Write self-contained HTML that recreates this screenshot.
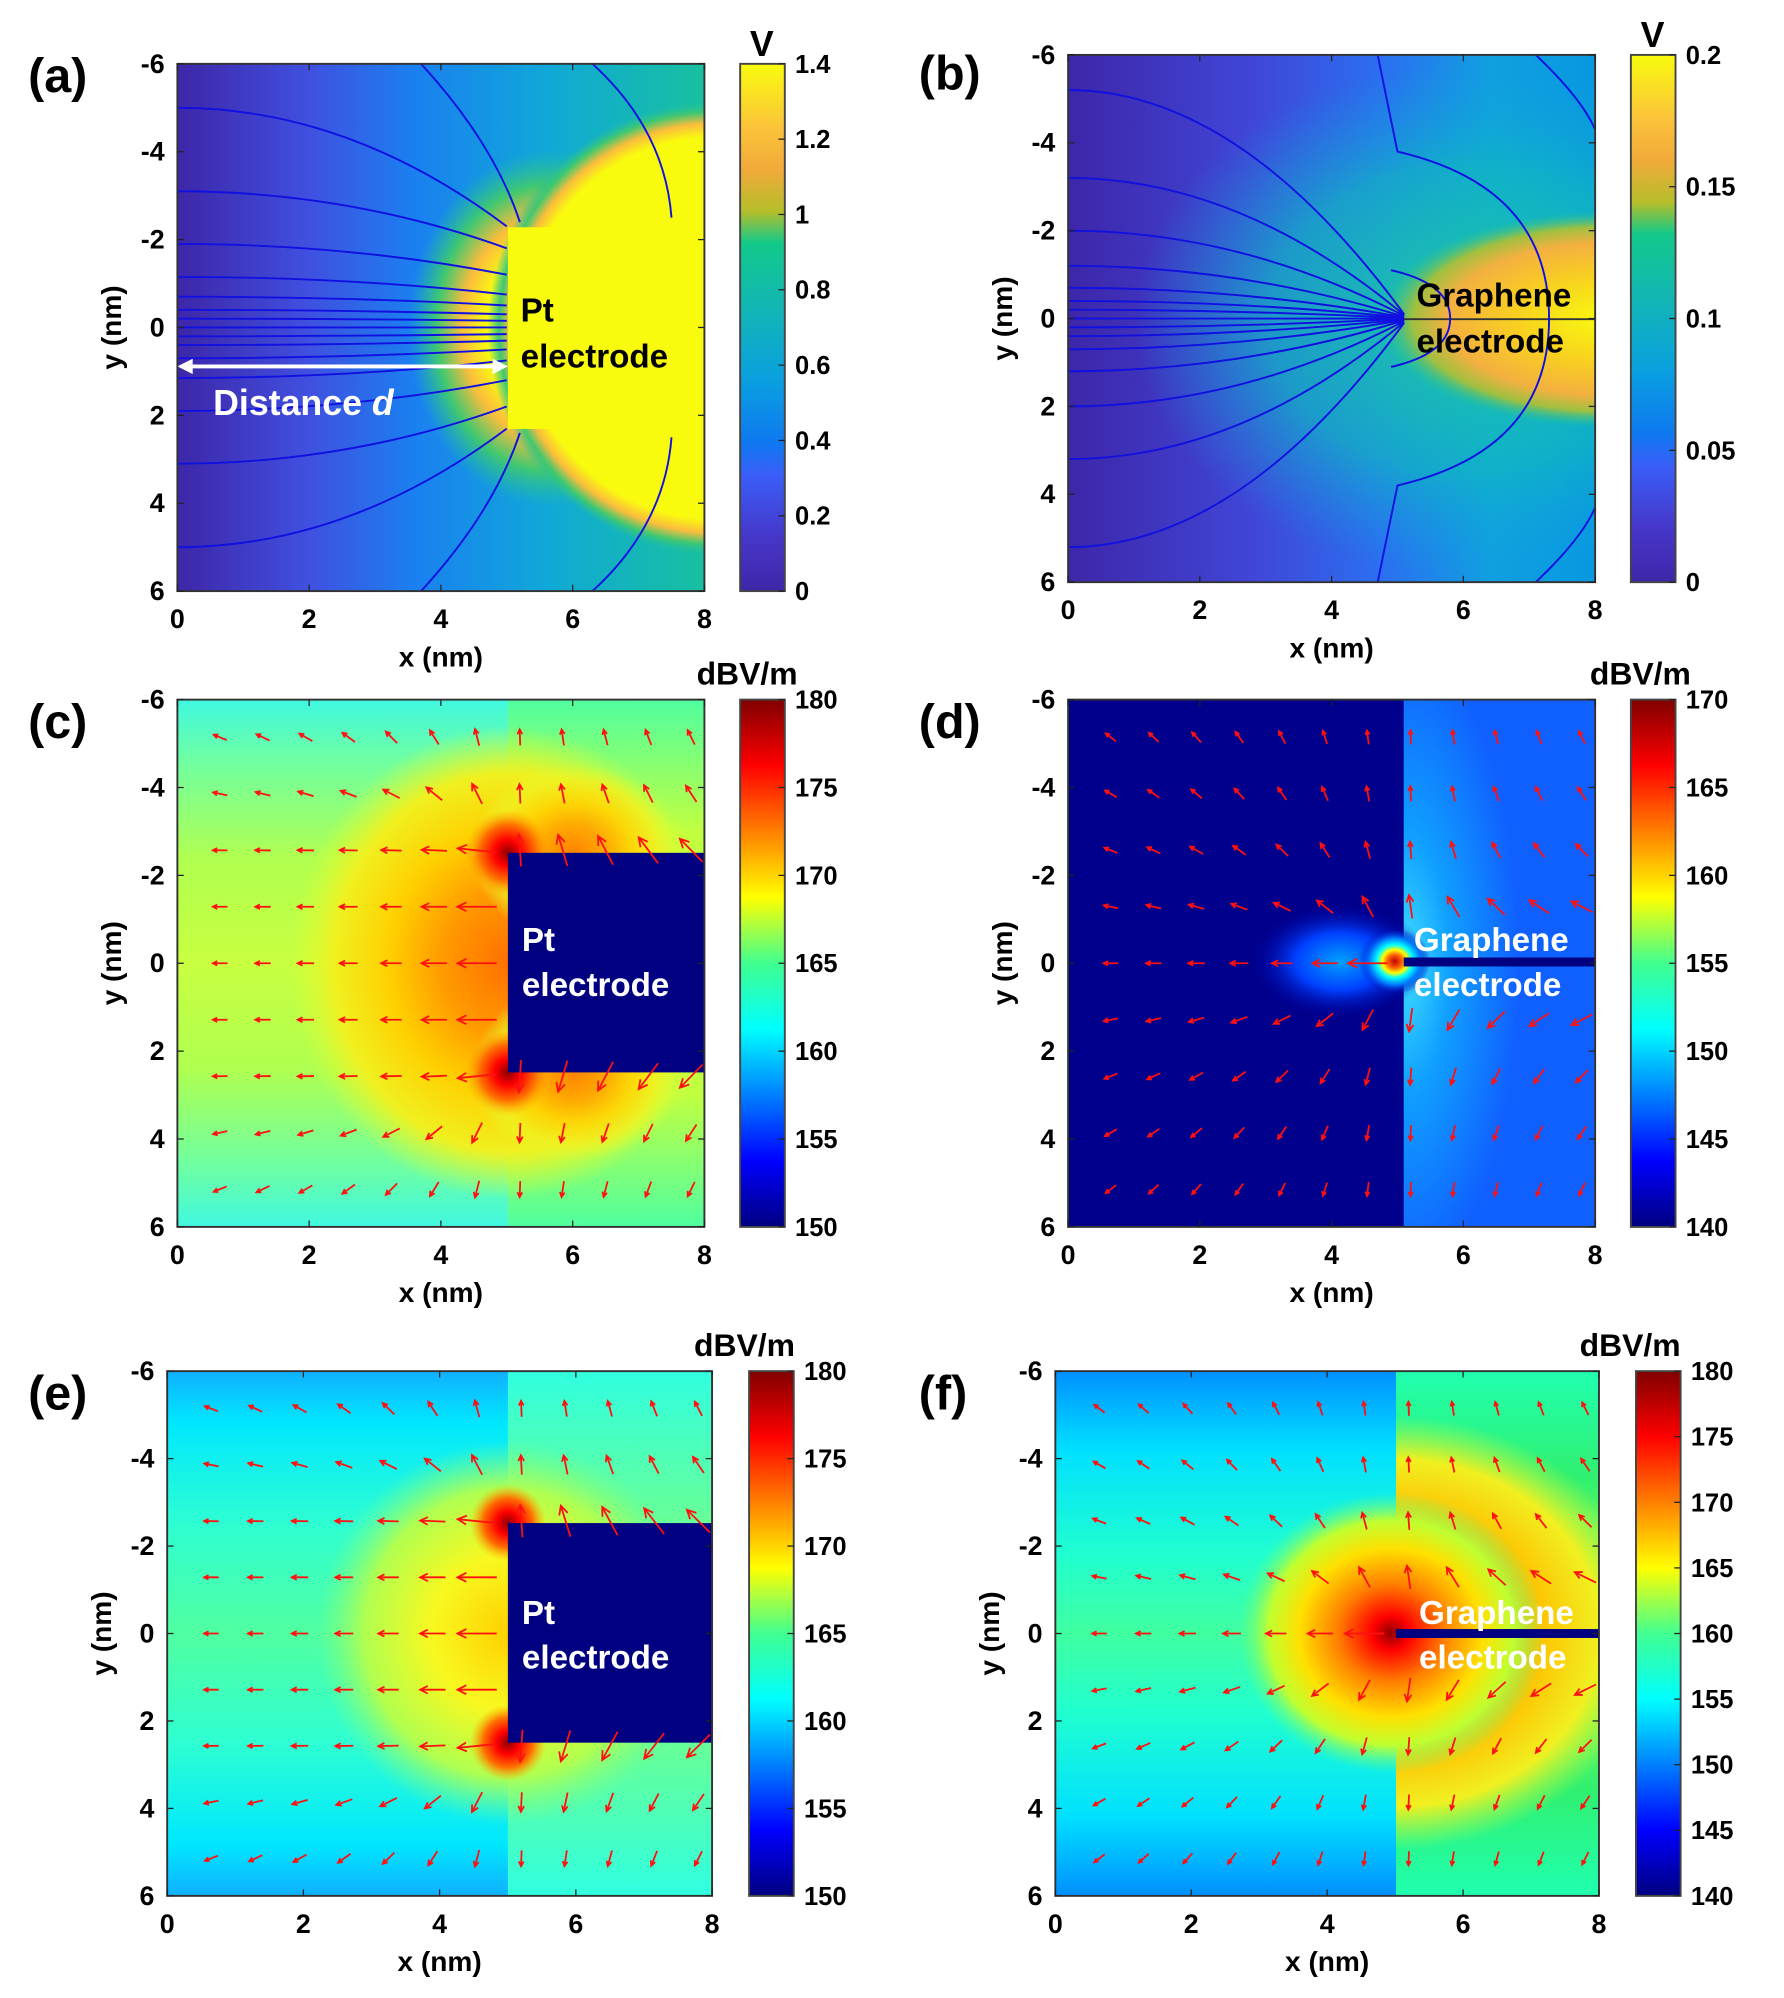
<!DOCTYPE html>
<html><head><meta charset="utf-8"><style>
html,body{margin:0;padding:0;background:#fff;}
svg{display:block;}
text{font-family:"Liberation Sans",sans-serif;font-weight:bold;}
</style></head><body>
<svg id="s" width="1784" height="1998" viewBox="0 0 1398 1565" preserveAspectRatio="none" xmlns="http://www.w3.org/2000/svg">
<defs>
<linearGradient id="parula" x1="0" y1="0" x2="0" y2="1">
<stop offset="0" stop-color="#f9fb0e"/><stop offset="0.12" stop-color="#fbc43a"/><stop offset="0.2" stop-color="#f2aa3a"/><stop offset="0.28" stop-color="#b5be2a"/><stop offset="0.34" stop-color="#12c98a"/><stop offset="0.45" stop-color="#12b8b0"/><stop offset="0.6" stop-color="#0aa0e0"/><stop offset="0.72" stop-color="#0f78f0"/><stop offset="0.78" stop-color="#3a5ef8"/><stop offset="0.9" stop-color="#4636c8"/><stop offset="1" stop-color="#3e26a8"/>
</linearGradient>
<linearGradient id="jet" x1="0" y1="0" x2="0" y2="1">
<stop offset="0" stop-color="#800000"/><stop offset="0.125" stop-color="#ff0000"/><stop offset="0.375" stop-color="#ffff00"/><stop offset="0.5" stop-color="#40ff90"/><stop offset="0.625" stop-color="#00ffff"/><stop offset="0.875" stop-color="#0000ff"/><stop offset="1" stop-color="#000080"/>
</linearGradient>
<linearGradient id="aBg" x1="0" y1="0" x2="1" y2="0">
<stop offset="0" stop-color="#3e26a8"/><stop offset="0.25" stop-color="#4050e0"/><stop offset="0.45" stop-color="#1a80f0"/><stop offset="0.7" stop-color="#10a8d8"/><stop offset="1" stop-color="#18c0a0"/>
</linearGradient>
<radialGradient id="aHalo" cx="0.5" cy="0.5" r="0.5">
<stop offset="0" stop-color="#f9fb0e"/><stop offset="0.84" stop-color="#f9fb0e"/><stop offset="0.9" stop-color="#fbbd3c"/><stop offset="0.95" stop-color="#40c870"/><stop offset="1" stop-color="#20c0a0" stop-opacity="0"/>
</radialGradient>
<radialGradient id="aHalo2" cx="0.5" cy="0.5" r="0.5">
<stop offset="0" stop-color="#f9fb0e"/><stop offset="0.45" stop-color="#f9fb0e"/><stop offset="0.62" stop-color="#fbbd3c"/><stop offset="0.8" stop-color="#40c870"/><stop offset="1" stop-color="#20c0a0" stop-opacity="0"/>
</radialGradient>
<linearGradient id="bBg" x1="0" y1="0" x2="1" y2="0">
<stop offset="0" stop-color="#3e26a8"/><stop offset="0.35" stop-color="#4046d8"/><stop offset="0.6" stop-color="#2a70f0"/><stop offset="0.8" stop-color="#10a0e0"/><stop offset="1" stop-color="#0898e0"/>
</linearGradient>
<radialGradient id="bHalo" cx="0.5" cy="0.5" r="0.5">
<stop offset="0" stop-color="#20c8a0"/><stop offset="0.6" stop-color="#10b8c0" stop-opacity="0.7"/><stop offset="1" stop-color="#10a0e0" stop-opacity="0"/>
</radialGradient>
<radialGradient id="bCore" cx="0.5" cy="0.5" r="0.5">
<stop offset="0" stop-color="#f9fb0e"/><stop offset="0.4" stop-color="#f8d020"/><stop offset="0.7" stop-color="#f4b040"/><stop offset="0.85" stop-color="#a0c040"/><stop offset="1" stop-color="#20c890" stop-opacity="0"/>
</radialGradient>
<linearGradient id="cL" x1="0" y1="0" x2="0" y2="1">
<stop offset="0" stop-color="#40f8e0"/><stop offset="0.12" stop-color="#70ffa0"/><stop offset="0.3" stop-color="#b0ff50"/><stop offset="0.5" stop-color="#c8ff40"/><stop offset="0.7" stop-color="#b0ff50"/><stop offset="0.88" stop-color="#70ffa0"/><stop offset="1" stop-color="#40f8e0"/>
</linearGradient>
<linearGradient id="cR" x1="0" y1="0" x2="0" y2="1">
<stop offset="0" stop-color="#50ffa0"/><stop offset="0.25" stop-color="#c0ff40"/><stop offset="0.75" stop-color="#c0ff40"/><stop offset="1" stop-color="#50ffa0"/>
</linearGradient>
<radialGradient id="cHalo" cx="0.5" cy="0.5" r="0.5">
<stop offset="0" stop-color="#ff7000"/><stop offset="0.3" stop-color="#ff9a00"/><stop offset="0.55" stop-color="#ffd000"/><stop offset="0.8" stop-color="#f0f020"/><stop offset="1" stop-color="#e0ff30" stop-opacity="0"/>
</radialGradient>
<radialGradient id="red" cx="0.5" cy="0.5" r="0.5">
<stop offset="0" stop-color="#900000"/><stop offset="0.3" stop-color="#ff0000"/><stop offset="0.65" stop-color="#ff7000"/><stop offset="1" stop-color="#ffb000" stop-opacity="0"/>
</radialGradient>
<radialGradient id="dGlow" cx="0.5" cy="0.5" r="0.5">
<stop offset="0" stop-color="#c00000"/><stop offset="0.2" stop-color="#ff6000"/><stop offset="0.35" stop-color="#ffff00"/><stop offset="0.5" stop-color="#00ffff"/><stop offset="0.7" stop-color="#0080ff"/><stop offset="1" stop-color="#0000c0" stop-opacity="0"/>
</radialGradient>
<radialGradient id="dBlue" cx="0.5" cy="0.5" r="0.5">
<stop offset="0" stop-color="#00a0ff"/><stop offset="0.5" stop-color="#0040ff"/><stop offset="1" stop-color="#0000a0" stop-opacity="0"/>
</radialGradient>
<radialGradient id="dR" cx="0" cy="0.5" r="0.6">
<stop offset="0" stop-color="#40e0ff"/><stop offset="0.4" stop-color="#10a0ff"/><stop offset="1" stop-color="#1060ff"/>
</radialGradient>
<linearGradient id="eL" x1="0" y1="0" x2="0" y2="1">
<stop offset="0" stop-color="#10b0ff"/><stop offset="0.1" stop-color="#00e8ff"/><stop offset="0.3" stop-color="#30ffd0"/><stop offset="0.5" stop-color="#50ffa0"/><stop offset="0.7" stop-color="#30ffd0"/><stop offset="0.9" stop-color="#00e8ff"/><stop offset="1" stop-color="#10b0ff"/>
</linearGradient>
<linearGradient id="eR" x1="0" y1="0" x2="0" y2="1">
<stop offset="0" stop-color="#30ffe0"/><stop offset="0.25" stop-color="#60ffa0"/><stop offset="0.5" stop-color="#90ff70"/><stop offset="0.75" stop-color="#60ffa0"/><stop offset="1" stop-color="#30ffe0"/>
</linearGradient>
<radialGradient id="eHalo" cx="0.5" cy="0.5" r="0.5">
<stop offset="0" stop-color="#ffd000"/><stop offset="0.4" stop-color="#f8f820"/><stop offset="0.75" stop-color="#b0ff50"/><stop offset="1" stop-color="#80ff80" stop-opacity="0"/>
</radialGradient>
<linearGradient id="fL" x1="0" y1="0" x2="0" y2="1">
<stop offset="0" stop-color="#0090ff"/><stop offset="0.15" stop-color="#00e0ff"/><stop offset="0.35" stop-color="#20ffd0"/><stop offset="0.5" stop-color="#40ffa0"/><stop offset="0.65" stop-color="#20ffd0"/><stop offset="0.85" stop-color="#00e0ff"/><stop offset="1" stop-color="#0090ff"/>
</linearGradient>
<linearGradient id="fR" x1="0" y1="0" x2="0" y2="1">
<stop offset="0" stop-color="#20ffb0"/><stop offset="0.2" stop-color="#30f070"/><stop offset="0.5" stop-color="#a0ff40"/><stop offset="0.8" stop-color="#30f070"/><stop offset="1" stop-color="#20ffb0"/>
</linearGradient>
<radialGradient id="fHalo" cx="0.5" cy="0.5" r="0.5">
<stop offset="0" stop-color="#900000"/><stop offset="0.12" stop-color="#ff0000"/><stop offset="0.35" stop-color="#ff8000"/><stop offset="0.6" stop-color="#ffe000"/><stop offset="0.8" stop-color="#c0ff30"/><stop offset="1" stop-color="#60ff80" stop-opacity="0"/>
</radialGradient>
<radialGradient id="fRH" cx="0.5" cy="0.5" r="0.5">
<stop offset="0" stop-color="#ff2000"/><stop offset="0.25" stop-color="#ff7000"/><stop offset="0.55" stop-color="#ffc000"/><stop offset="0.8" stop-color="#f0f020"/><stop offset="1" stop-color="#c0ff40" stop-opacity="0"/>
</radialGradient>
<clipPath id="ca"><rect x="139" y="50" width="413" height="413"/></clipPath>
<clipPath id="cb"><rect x="837" y="43" width="413" height="413"/></clipPath>
<clipPath id="cc"><rect x="139" y="548" width="413" height="413"/></clipPath>
<clipPath id="cd"><rect x="837" y="548" width="413" height="413"/></clipPath>
<clipPath id="ce"><rect x="131" y="1074" width="427" height="411"/></clipPath>
<clipPath id="cf"><rect x="827" y="1074" width="426" height="411"/></clipPath>
<clipPath id="cfr"><rect x="1094" y="1074" width="159" height="411"/></clipPath>
</defs>

<!-- (a) -->
<g clip-path="url(#ca)">
<rect x="139" y="50" width="413" height="413" fill="url(#aBg)"/>
<ellipse cx="430" cy="257" rx="110" ry="140" fill="url(#aHalo2)"/>
<ellipse cx="560" cy="257" rx="178" ry="178" fill="url(#aHalo)"/>
<rect x="398" y="178" width="160" height="158" fill="#f9fb0e"/>
<g id="contA" fill="none" stroke="#1010e0" stroke-width="1.5"></g>
</g>
<!-- (b) -->
<g clip-path="url(#cb)">
<rect x="837" y="43" width="413" height="413" fill="url(#bBg)"/>
<ellipse cx="1150" cy="250" rx="260" ry="200" fill="url(#bHalo)"/>
<ellipse cx="1260" cy="250" rx="180" ry="85" fill="url(#bCore)"/>
<line x1="1100" y1="250" x2="1250" y2="250" stroke="#333" stroke-width="1.5"/>
<g id="contB" fill="none" stroke="#1010e0" stroke-width="1.5"></g>
</g>
<!-- (c) -->
<g clip-path="url(#cc)">
<rect x="139" y="548" width="260" height="413" fill="url(#cL)"/>
<rect x="398" y="548" width="154" height="413" fill="url(#cR)"/>
<ellipse cx="398" cy="754" rx="170" ry="185" fill="url(#cHalo)"/>
<ellipse cx="450" cy="668" rx="80" ry="70" fill="url(#cHalo)" opacity="0.8"/>
<ellipse cx="450" cy="840" rx="80" ry="70" fill="url(#cHalo)" opacity="0.8"/>
<ellipse cx="398" cy="668" rx="34" ry="34" fill="url(#red)"/>
<ellipse cx="398" cy="840" rx="34" ry="34" fill="url(#red)"/>
<rect x="398" y="668" width="160" height="172" fill="#000080"/>
<g id="arC"></g>
</g>
<!-- (d) -->
<g clip-path="url(#cd)">
<rect x="837" y="548" width="413" height="413" fill="#00008c"/>
<rect x="1100" y="548" width="150" height="413" fill="url(#dR)"/>
<ellipse cx="1050" cy="753" rx="70" ry="45" fill="url(#dBlue)"/>
<ellipse cx="1093" cy="753" rx="28" ry="26" fill="url(#dGlow)"/>
<rect x="1100" y="750" width="150" height="7" fill="#000080"/>
<g id="arD"></g>
</g>
<!-- (e) -->
<g clip-path="url(#ce)">
<rect x="131" y="1074" width="268" height="411" fill="url(#eL)"/>
<rect x="398" y="1074" width="160" height="411" fill="url(#eR)"/>
<ellipse cx="398" cy="1279" rx="150" ry="150" fill="url(#eHalo)"/>
<ellipse cx="398" cy="1193" rx="30" ry="30" fill="url(#red)"/>
<ellipse cx="398" cy="1365" rx="30" ry="30" fill="url(#red)"/>
<rect x="398" y="1193" width="160" height="172" fill="#000080"/>
<g id="arE"></g>
</g>
<!-- (f) -->
<g clip-path="url(#cf)">
<rect x="827" y="1074" width="268" height="411" fill="url(#fL)"/>
<rect x="1094" y="1074" width="159" height="411" fill="url(#fR)"/>
<g clip-path="url(#cfr)"><ellipse cx="1094" cy="1279" rx="200" ry="170" fill="url(#fRH)"/></g>
<ellipse cx="1090" cy="1279" rx="120" ry="110" fill="url(#fHalo)"/>
<rect x="1094" y="1276" width="159" height="7" fill="#000080"/>
<g id="arF"></g>
</g>

<!-- text annotations -->
<g font-size="26" fill="#000">
<text x="408" y="252">Pt</text><text x="408" y="288">electrode</text>
<text x="1110" y="240">Graphene</text><text x="1110" y="276">electrode</text>
</g>
<g stroke="#fff" stroke-width="3" fill="#fff">
<line x1="146" y1="287" x2="391" y2="287"/>
<polygon points="139,287 151,281 151,293" stroke="none"/>
<polygon points="398,287 386,281 386,293" stroke="none"/>
</g>
<text x="167" y="325" font-size="28" fill="#fff">Distance <tspan font-style="italic">d</tspan></text>
<g font-size="26" fill="#fff">
<text x="409" y="745">Pt</text><text x="409" y="780">electrode</text>
<text x="1108" y="745">Graphene</text><text x="1108" y="780">electrode</text>
<text x="409" y="1272">Pt</text><text x="409" y="1307">electrode</text>
<text x="1112" y="1272">Graphene</text><text x="1112" y="1307">electrode</text>
</g>
<g font-size="38" fill="#000">
<text x="22" y="72">(a)</text><text x="720" y="70">(b)</text>
<text x="22" y="578">(c)</text><text x="720" y="578">(d)</text>
<text x="22" y="1104">(e)</text><text x="720" y="1104">(f)</text>
</g>
<g id="axes"></g>
</svg>
<script>
var NS="http://www.w3.org/2000/svg";
function el(p,t,a,txt){var e=document.createElementNS(NS,t);for(var k in a)e.setAttribute(k,a[k]);if(txt!==undefined)e.textContent=txt;p.appendChild(e);return e;}
var ax=document.getElementById("axes");
function axis(x0,y0,x1,y1,cx,ticks,labels,grad,title,titleX){
  el(ax,"rect",{x:x0,y:y0,width:x1-x0,height:y1-y0,fill:"none",stroke:"#333","stroke-width":1.5});
  var w=x1-x0,h=y1-y0;
  for(var i=0;i<=6;i++){var y=y0+h*i/6;el(ax,"text",{x:x0-10,y:y+7,"text-anchor":"end","font-size":21},String(-6+2*i));
    el(ax,"line",{x1:x0,y1:y,x2:x0+5,y2:y,stroke:"#222"});el(ax,"line",{x1:x1,y1:y,x2:x1-5,y2:y,stroke:"#222"});}
  for(var i=0;i<=4;i++){var x=x0+w*i/4;el(ax,"text",{x:x,y:y1+29,"text-anchor":"middle","font-size":21},String(2*i));
    el(ax,"line",{x1:x,y1:y0,x2:x,y2:y0+5,stroke:"#222"});el(ax,"line",{x1:x,y1:y1,x2:x,y2:y1-5,stroke:"#222"});}
  el(ax,"text",{x:(x0+x1)/2,y:y1+59,"text-anchor":"middle","font-size":22},"x (nm)");
  el(ax,"text",{x:0,y:0,"text-anchor":"middle","font-size":22,transform:"translate("+(x0-44)+","+((y0+y1)/2)+") rotate(-90)"},"y (nm)");
  el(ax,"rect",{x:cx,y:y0,width:35,height:h,fill:"url(#"+grad+")",stroke:"#444","stroke-width":1.5});
  for(var i=0;i<labels.length;i++){var y=y1-h*ticks[i];el(ax,"text",{x:cx+43,y:y+7,"font-size":20},labels[i]);
    el(ax,"line",{x1:cx+35,y1:y,x2:cx+30,y2:y,stroke:"#222"});}
  if(title=="V")el(ax,"text",{x:cx+17,y:y0-6,"text-anchor":"middle","font-size":28},"V");
  else el(ax,"text",{x:titleX,y:y0-12,"text-anchor":"end","font-size":25},title);
}
function lin(v0,v1,step,fmt){var t=[],l=[];for(var v=v0;v<=v1+1e-9;v+=step){t.push((v-v0)/(v1-v0));l.push(fmt(v));}return [t,l];}
var A=lin(0,1.4,0.2,function(v){return String(Math.round(v*10)/10);});
axis(139,50,552,463,580,A[0],A[1],"parula","V");
var B=lin(0,0.2,0.05,function(v){return String(Math.round(v*100)/100);});
axis(837,43,1250,456,1278,B[0],B[1],"parula","V");
var C=lin(150,180,5,function(v){return String(Math.round(v));});
axis(139,548,552,961,580,C[0],C[1],"jet","dBV/m",625);
var D=lin(140,170,5,function(v){return String(Math.round(v));});
axis(837,548,1250,961,1278,D[0],D[1],"jet","dBV/m",1325);
axis(131,1074,558,1485,587,C[0],C[1],"jet","dBV/m",623);
var F=lin(140,180,5,function(v){return String(Math.round(v));});
axis(827,1074,1253,1485,1282,F[0],F[1],"jet","dBV/m",1317);

function contours(id,x0,y0,sx,sy,tipMode){
  var g=document.getElementById(id);
  var pairs=[[-5,-2.3],[-3.1,-1.8],[-1.9,-1.2],[-1.15,-0.75],[-0.7,-0.5],[-0.4,-0.3],[-0.2,-0.15],[0,0],[0.2,0.15],[0.4,0.3],[0.7,0.5],[1.15,0.75],[1.9,1.2],[3.1,1.8],[5,2.3]];
  if(tipMode)pairs=[[-5.2,-0.1],[-3.2,-0.08],[-2,-0.06],[-1.2,-0.04],[-0.7,-0.03],[-0.4,-0.02],[-0.2,-0.01],[0,0],[0.2,0.01],[0.4,0.02],[0.7,0.03],[1.2,0.04],[2,0.06],[3.2,0.08],[5.2,0.1]];
  function P(x,y){return (x0+x*sx).toFixed(1)+","+(y0+(y+6)*sy).toFixed(1);}
  var ex=tipMode?5.1:5;
  pairs.forEach(function(p){el(g,"path",{d:"M"+P(0,p[0])+" Q"+P(2.6,p[0])+" "+P(ex,p[1])});});
  if(!tipMode){
    el(g,"path",{d:"M"+P(3.7,-6)+" Q"+P(4.8,-4.2)+" "+P(5.2,-2.4)});
    el(g,"path",{d:"M"+P(3.7,6)+" Q"+P(4.8,4.2)+" "+P(5.2,2.4)});
    el(g,"path",{d:"M"+P(6.3,-6)+" Q"+P(7.4,-4.5)+" "+P(7.5,-2.5)});
    el(g,"path",{d:"M"+P(6.3,6)+" Q"+P(7.4,4.5)+" "+P(7.5,2.5)});
  }else{
    el(g,"path",{d:"M"+P(4.7,-6)+" Q"+P(4.9,-4.5)+" "+P(5,-3.8)+" Q"+P(7.3,-3)+" "+P(7.3,0)+" Q"+P(7.3,3)+" "+P(5,3.8)+" Q"+P(4.9,4.5)+" "+P(4.7,6)});
    el(g,"path",{d:"M"+P(4.9,-1.1)+" Q"+P(5.8,-0.8)+" "+P(5.8,0)+" Q"+P(5.8,0.8)+" "+P(4.9,1.1)});
    el(g,"path",{d:"M"+P(7.1,-6)+" Q"+P(7.8,-5)+" "+P(8,-4.3)});
    el(g,"path",{d:"M"+P(7.1,6)+" Q"+P(7.8,5)+" "+P(8,4.3)});
  }
}
contours("contA",139,50,413/8,413/12,false);
contours("contB",837,43,413/8,413/12,true);

function arrows(id,x0,y0,w,h,block){
  var g=document.getElementById(id);var sx=w/8,sy=h/12;
  for(var j=0;j<9;j++){var y=-5.14+1.285*j;
    for(var k=1;k<=12;k++){var x=0.65*k;
      var nx,ny,r0;
      if(x>=5){
        if(block&&Math.abs(y)<=2.5)continue;
        if(!block&&Math.abs(y)<0.3)continue;
        nx=5+(x-5)*1.6; ny=0;
        r0=block?Math.abs(Math.abs(y)-2.5)+0.6:Math.abs(y);
      } else {
        nx=5; ny=block?Math.max(-2.5,Math.min(2.5,y)):0;
        var ex=x-nx,ey=y-ny; r0=Math.sqrt(ex*ex+ey*ey);
      }
      var dx=x-nx,dy=y-ny;var r=Math.sqrt(dx*dx+dy*dy)||0.01;
      var L=Math.min(55,8+16/(r0+0.25));
      var ux=dx/r*sx,uy=dy/r*sy;var m=Math.sqrt(ux*ux+uy*uy);ux/=m;uy/=m;
      var px=x0+x*sx,py=y0+(y+6)*sy;
      var tx=px+ux*L/2,ty=py+uy*L/2,bx=px-ux*L/2,by=py-uy*L/2;
      el(g,"line",{x1:bx,y1:by,x2:tx,y2:ty,stroke:"#ff1010","stroke-width":1.4});
      var hs=Math.min(7,L*0.3);
      var ax1=tx-ux*hs-uy*hs*0.5,ay1=ty-uy*hs+ux*hs*0.5,ax2=tx-ux*hs+uy*hs*0.5,ay2=ty-uy*hs-ux*hs*0.5;
      el(g,"polyline",{points:ax1+","+ay1+" "+tx+","+ty+" "+ax2+","+ay2,fill:"none",stroke:"#ff1010","stroke-width":1.4});
    }}
}
arrows("arC",139,548,413,413,true);
arrows("arD",837,548,413,413,false);
arrows("arE",131,1074,427,411,true);
arrows("arF",827,1074,426,411,false);
</script>
</body></html>
